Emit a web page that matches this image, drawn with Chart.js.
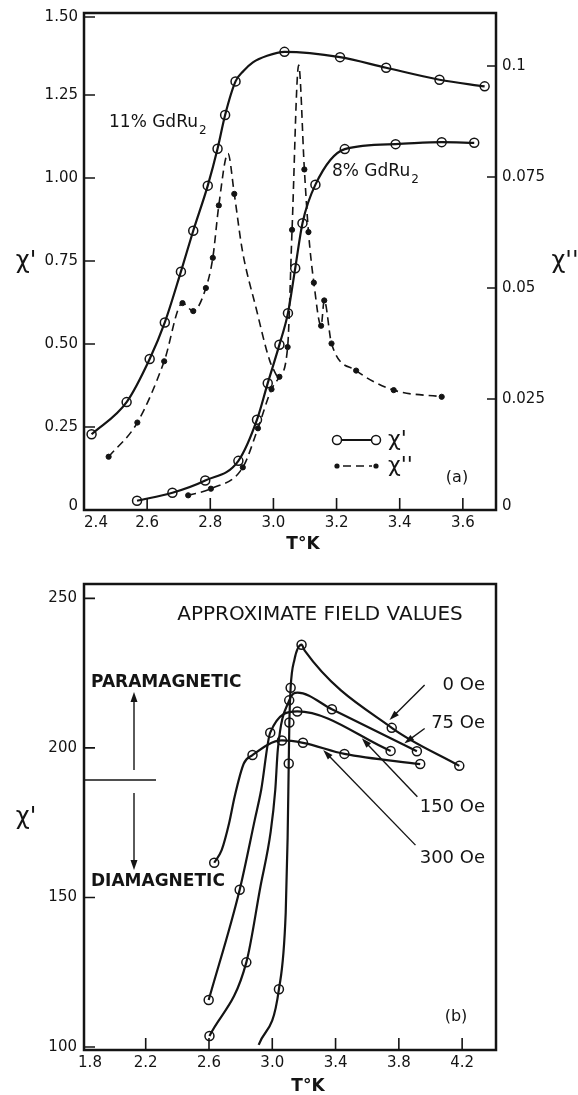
<!DOCTYPE html>
<html><head><meta charset="utf-8">
<script src="https://cdn.jsdelivr.net/npm/chart.js@4.4.1/dist/chart.umd.min.js"></script>
<style>
html,body{margin:0;padding:0;background:#fff;}
#wrap{position:relative;width:578px;height:1095px;background:#fff;}
#ca{position:absolute;left:0;top:0;width:578px;height:560px;}
#cb{position:absolute;left:0;top:560px;width:578px;height:535px;}
</style></head><body>
<div id="wrap"><canvas id="ca" width="578" height="560"></canvas><canvas id="cb" width="578" height="535"></canvas></div>
<script>
// ================= Panel (a) data =================
// 11% GdRu2, chi' (open circles, left axis)
const tChi1_11 = [2.424, 2.535, 2.608, 2.656, 2.707, 2.746, 2.792, 2.823, 2.847, 2.880, 3.035, 3.211, 3.357, 3.526, 3.669];
const chi1_11  = [0.228, 0.325, 0.455, 0.565, 0.718, 0.841, 0.977, 1.088, 1.190, 1.291, 1.380, 1.364, 1.332, 1.296, 1.276];
const tChi1_11Trace = [2.905, 2.935, 2.980];
const chi1_11Trace  = [1.322, 1.348, 1.368];
// 8% GdRu2, chi' (open circles, left axis)
const tChi1_8 = [2.568, 2.680, 2.784, 2.889, 2.948, 2.982, 3.019, 3.046, 3.069, 3.092, 3.133, 3.226, 3.387, 3.533, 3.636];
const chi1_8  = [0.028, 0.052, 0.089, 0.148, 0.272, 0.382, 0.498, 0.593, 0.728, 0.864, 0.980, 1.087, 1.102, 1.108, 1.106];
// 11% GdRu2, chi'' (filled dots, right axis)
const tChi2_11 = [2.478, 2.569, 2.654, 2.712, 2.746, 2.786, 2.808, 2.827, 2.876];
const chi2_11  = [0.0120, 0.0197, 0.0335, 0.0466, 0.0448, 0.0500, 0.0568, 0.0686, 0.0712];
const tChi2_11Trace = [2.856, 2.901, 2.945, 2.988, 3.012];
const chi2_11Trace  = [0.0803, 0.0587, 0.0455, 0.0337, 0.0300];
// 8% GdRu2, chi'' (filled dots, right axis)
const tChi2_8 = [2.730, 2.802, 2.903, 2.951, 2.994, 3.019, 3.045, 3.059, 3.098, 3.111, 3.128, 3.151, 3.161, 3.184, 3.262, 3.381, 3.533];
const chi2_8  = [0.0033, 0.0048, 0.0096, 0.0184, 0.0272, 0.0300, 0.0367, 0.0631, 0.0767, 0.0626, 0.0512, 0.0415, 0.0472, 0.0375, 0.0314, 0.0270, 0.0255];
const tChi2_8Trace = [3.080];
const chi2_8Trace  = [0.1002];
// ticks (a)
const xTicksA = [2.4, 2.6, 2.8, 3.0, 3.2, 3.4, 3.6];
const xTickLabelsA = ['2.4','2.6','2.8','3.0','3.2','3.4','3.6'];
const yTicksA = [0, 0.25, 0.5, 0.75, 1.0, 1.25, 1.5];
const yTickLabelsA = ['0','0.25','0.50','0.75','1.00','1.25','1.50'];
const y2TicksA = [0, 0.025, 0.05, 0.075, 0.1];
const y2TickLabelsA = ['0','0.025','0.05','0.075','0.1'];

// ================= Panel (b) data =================
const t0Oe = [3.042, 3.104, 3.108, 3.116, 3.185, 3.755, 4.182];
const chi0Oe = [119.3, 194.8, 208.5, 220.1, 234.5, 206.7, 194.0];
const t0OeTrace = [2.914, 3.085, 3.097, 3.140, 3.205];
const chi0OeTrace = [100.7, 145.0, 170.0, 229.5, 232.5];

const t75Oe = [2.603, 2.836, 3.107, 3.377, 3.914];
const chi75Oe = [103.7, 128.3, 215.9, 212.9, 198.9];
const t75OeTrace = [2.925, 2.990, 3.019, 3.035, 3.160];
const chi75OeTrace = [153.6, 172.0, 186.0, 199.4, 218.5];

const t150Oe = [2.598, 2.794, 2.987, 3.158, 3.748];
const chi150Oe = [115.7, 152.6, 205.1, 212.2, 199.0];
const t150OeTrace = [2.890, 2.930];
const chi150OeTrace = [176.1, 186.0];

const t300Oe = [2.633, 2.875, 3.061, 3.194, 3.456, 3.935];
const chi300Oe = [161.6, 197.6, 202.5, 201.7, 198.0, 194.6];
const t300OeTrace = [2.680, 2.727, 2.762, 2.820];
const chi300OeTrace = [165.8, 174.8, 183.7, 194.8];

const xTicksB = [1.8, 2.2, 2.6, 3.0, 3.4, 3.8, 4.2];
const xTickLabelsB = ['1.8','2.2','2.6','3.0','3.4','3.8','4.2'];
const yTicksB = [100, 150, 200, 250];
const yTickLabelsB = ['100','150','200','250'];
const fieldLabels = ['0 Oe', '75 Oe', '150 Oe', '300 Oe'];
// leader arrows for field labels, [T_from, chi_from, T_to, chi_to]
const fieldArrows = [
  [3.963, 221.0, 3.741, 209.3],
  [3.963, 206.5, 3.834, 201.5],
  [3.917, 183.7, 3.566, 203.2],
  [3.905, 167.5, 3.322, 199.3]
];

// ================= helpers =================
const INK = '#141414';
const FONT = '"DejaVu Sans", "Liberation Sans", sans-serif';
Chart.defaults.font.family = FONT;
function pts(T, V){ return T.map((t,i)=>({x:t, y:V[i]})); }
function merged(T, V, T2, V2){ return pts(T.concat(T2), V.concat(V2)).sort((a,b)=>a.x-b.x); }
function lineDS(data, yID, dashed){
  return {data, yAxisID:yID, showLine:true, borderColor:INK, borderWidth:dashed?1.6:2.2,
    borderDash:dashed?[8,5]:[], pointRadius:0, pointHoverRadius:0, cubicInterpolationMode:'monotone', fill:false};
}
function markDS(data, yID, open){
  return {data, yAxisID:yID, showLine:false, pointRadius:open?4.5:2.6, pointHoverRadius:open?4.5:2.6,
    pointBackgroundColor:open?'#fff':INK, pointBorderColor:INK, pointBorderWidth:open?1.5:1};
}
function arrow(ctx, x1, y1, x2, y2, len, wid){
  const ang = Math.atan2(y2-y1, x2-x1);
  ctx.beginPath(); ctx.moveTo(x1,y1); ctx.lineTo(x2 - Math.cos(ang)*len*0.6, y2 - Math.sin(ang)*len*0.6); ctx.stroke();
  ctx.beginPath();
  ctx.moveTo(x2, y2);
  ctx.lineTo(x2 - Math.cos(ang)*len + Math.sin(ang)*wid, y2 - Math.sin(ang)*len - Math.cos(ang)*wid);
  ctx.lineTo(x2 - Math.cos(ang)*len - Math.sin(ang)*wid, y2 - Math.sin(ang)*len + Math.cos(ang)*wid);
  ctx.closePath(); ctx.fill();
}
function hiddenAxis(extra){
  return Object.assign({type:'linear', grid:{display:false}, border:{display:false}, ticks:{display:false}}, extra);
}
function textSub(ctx, main, sub, x, y, size){
  ctx.font = size + 'px ' + FONT; ctx.textAlign='left'; ctx.textBaseline='middle';
  ctx.fillText(main, x, y);
  const w = ctx.measureText(main).width;
  ctx.font = Math.round(size*0.72) + 'px ' + FONT;
  ctx.fillText(sub, x + w + 1, y + 8);
}

// ================= Panel (a) =================
const panelA = {
  id:'panelA',
  afterDraw(chart){
    const {ctx, chartArea:a, scales:{x, y, y2}} = chart;
    ctx.save();
    ctx.strokeStyle = INK; ctx.fillStyle = INK;
    ctx.lineWidth = 2.5;
    ctx.strokeRect(a.left, a.top, a.right-a.left, a.bottom-a.top);
    ctx.lineWidth = 1.6;
    ctx.beginPath();
    xTicksA.forEach(v=>{ const p=x.getPixelForValue(v); if(p>a.left+2){ctx.moveTo(p,a.bottom); ctx.lineTo(p,a.bottom-12);} });
    yTicksA.forEach(v=>{ const p=Math.max(y.getPixelForValue(v), a.top+4); ctx.moveTo(a.left,p); ctx.lineTo(a.left+11,p); });
    y2TicksA.forEach(v=>{ const p=y2.getPixelForValue(v); ctx.moveTo(a.right,p); ctx.lineTo(a.right-9,p); });
    ctx.stroke();
    // tick labels
    ctx.font = '15px ' + FONT; ctx.textBaseline='middle';
    ctx.textAlign='right';
    yTicksA.forEach((v,i)=>{ ctx.fillText(yTickLabelsA[i], a.left-6, Math.max(Math.min(y.getPixelForValue(v), a.bottom-4), a.top+4)); });
    ctx.textAlign='left';
    y2TicksA.forEach((v,i)=>{ ctx.fillText(y2TickLabelsA[i], a.right+6, Math.min(y2.getPixelForValue(v), a.bottom-4)); });
    ctx.textAlign='center';
    xTicksA.forEach((v,i)=>{ ctx.fillText(xTickLabelsA[i], Math.max(x.getPixelForValue(v), a.left+12), a.bottom+13); });
    // axis titles
    ctx.font = 'bold 17px ' + FONT;
    ctx.fillText('T°K', a.left+219, a.bottom+35);
    ctx.font = '24px ' + FONT;
    ctx.fillText("χ'", 26, 262);
    ctx.fillText("χ''", 565, 262);
    // curve labels
    textSub(ctx, '11% GdRu', '2', 109, 123, 17);
    textSub(ctx, '8% GdRu', '2', 332, 172, 17);
    // legend
    ctx.lineWidth = 2.2; ctx.setLineDash([]);
    ctx.beginPath(); ctx.moveTo(337,440); ctx.lineTo(376,440); ctx.stroke();
    ctx.lineWidth = 1.5; ctx.fillStyle='#fff';
    [337,376].forEach(px=>{ ctx.beginPath(); ctx.arc(px,440,4.5,0,Math.PI*2); ctx.fill(); ctx.stroke(); });
    ctx.fillStyle = INK;
    ctx.lineWidth = 1.6; ctx.setLineDash([8,5]);
    ctx.beginPath(); ctx.moveTo(343,466); ctx.lineTo(372,466); ctx.stroke();
    ctx.setLineDash([]);
    [337,376].forEach(px=>{ ctx.beginPath(); ctx.arc(px,466,2.6,0,Math.PI*2); ctx.fill(); });
    ctx.font = '22px ' + FONT; ctx.textAlign='left';
    ctx.fillText("χ'", 388, 440);
    ctx.fillText("χ''", 388, 466);
    ctx.font = '16px ' + FONT; ctx.textAlign='center';
    ctx.fillText('(a)', 457, 478);
    ctx.restore();
  }
};

new Chart(document.getElementById('ca'), {
  type:'scatter',
  data:{ datasets:[
    lineDS(merged(tChi1_11, chi1_11, tChi1_11Trace, chi1_11Trace), 'y', false),
    lineDS(pts(tChi1_8, chi1_8), 'y', false),
    lineDS(merged(tChi2_11, chi2_11, tChi2_11Trace, chi2_11Trace), 'y2', true),
    lineDS(merged(tChi2_8, chi2_8, tChi2_8Trace, chi2_8Trace), 'y2', true),
    markDS(pts(tChi2_11, chi2_11), 'y2', false),
    markDS(pts(tChi2_8, chi2_8), 'y2', false),
    markDS(pts(tChi1_11, chi1_11), 'y', true),
    markDS(pts(tChi1_8, chi1_8), 'y', true)
  ]},
  options:{
    responsive:false, animation:false, events:[],
    layout:{padding:{top:13, left:0, right:0, bottom:0}},
    plugins:{legend:{display:false}, tooltip:{enabled:false}, title:{display:false}},
    scales:{
      x: hiddenAxis({position:'bottom', min:2.4, max:3.705, afterFit(s){ s.height = 50; }}),
      y: hiddenAxis({position:'left', min:0, max:1.497, afterFit(s){ s.width = 84; }}),
      y2: hiddenAxis({position:'right', min:0, max:0.11194, afterFit(s){ s.width = 82; }})
    }
  },
  plugins:[panelA]
});

// ================= Panel (b) =================
const panelB = {
  id:'panelB',
  afterDraw(chart){
    const {ctx, chartArea:a, scales:{x, y}} = chart;
    ctx.save();
    ctx.strokeStyle = INK; ctx.fillStyle = INK;
    ctx.lineWidth = 2.5;
    ctx.strokeRect(a.left, a.top, a.right-a.left, a.bottom-a.top);
    ctx.lineWidth = 1.6;
    ctx.beginPath();
    xTicksB.forEach(v=>{ const p=x.getPixelForValue(v); if(p>a.left+2){ctx.moveTo(p,a.bottom); ctx.lineTo(p,a.bottom-12);} });
    yTicksB.forEach(v=>{ const p=y.getPixelForValue(v); ctx.moveTo(a.left,p); ctx.lineTo(a.left+11,p); });
    ctx.stroke();
    ctx.font = '15px ' + FONT; ctx.textBaseline='middle';
    ctx.textAlign='right';
    yTicksB.forEach((v,i)=>{ ctx.fillText(yTickLabelsB[i], a.left-7, y.getPixelForValue(v)); });
    ctx.textAlign='center';
    xTicksB.forEach((v,i)=>{ ctx.fillText(xTickLabelsB[i], Math.max(x.getPixelForValue(v), a.left+6), a.bottom+13); });
    ctx.font = 'bold 17px ' + FONT;
    ctx.fillText('T°K', 308, a.bottom+37);
    ctx.font = '24px ' + FONT;
    ctx.fillText("χ'", 26, 258);
    // header
    ctx.font = '20px ' + FONT;
    ctx.fillText('APPROXIMATE FIELD VALUES', 320, 55);
    // para / dia
    ctx.font = 'bold 17px ' + FONT; ctx.textAlign='left';
    ctx.fillText('PARAMAGNETIC', 91, 123);
    ctx.fillText('DIAMAGNETIC', 91, 322);
    ctx.lineWidth = 1.4;
    arrow(ctx, 134, 210, 134, 132, 10, 3.5);
    arrow(ctx, 134, 233, 134, 310, 10, 3.5);
    ctx.beginPath(); ctx.moveTo(a.left, 220); ctx.lineTo(156, 220); ctx.stroke();
    // field labels and leader arrows
    ctx.font = '18px ' + FONT; ctx.textAlign='right';
    const labelY = [221.0, 208.3, 180.3, 163.2];
    fieldLabels.forEach((s,i)=>{ ctx.fillText(s, 485, y.getPixelForValue(labelY[i])); });
    fieldArrows.forEach(r=>{
      arrow(ctx, x.getPixelForValue(r[0]), y.getPixelForValue(r[1]), x.getPixelForValue(r[2]), y.getPixelForValue(r[3]), 10, 3.2);
    });
    ctx.font = '16px ' + FONT; ctx.textAlign='center';
    ctx.fillText('(b)', 456, 457);
    ctx.restore();
  }
};

new Chart(document.getElementById('cb'), {
  type:'scatter',
  data:{ datasets:[
    lineDS(merged(t0Oe, chi0Oe, t0OeTrace, chi0OeTrace), 'y', false),
    lineDS(merged(t75Oe, chi75Oe, t75OeTrace, chi75OeTrace), 'y', false),
    lineDS(merged(t150Oe, chi150Oe, t150OeTrace, chi150OeTrace), 'y', false),
    lineDS(merged(t300Oe, chi300Oe, t300OeTrace, chi300OeTrace), 'y', false),
    markDS(pts(t0Oe, chi0Oe), 'y', true),
    markDS(pts(t75Oe, chi75Oe), 'y', true),
    markDS(pts(t150Oe, chi150Oe), 'y', true),
    markDS(pts(t300Oe, chi300Oe), 'y', true)
  ]},
  options:{
    responsive:false, animation:false, events:[],
    layout:{padding:{top:24, left:0, right:82, bottom:0}},
    plugins:{legend:{display:false}, tooltip:{enabled:false}, title:{display:false}},
    scales:{
      x: hiddenAxis({position:'bottom', min:1.81, max:4.414, afterFit(s){ s.height = 45; }}),
      y: hiddenAxis({position:'left', min:99.0, max:254.8, afterFit(s){ s.width = 84; }})
    }
  },
  plugins:[panelB]
});
</script>
</body></html>
